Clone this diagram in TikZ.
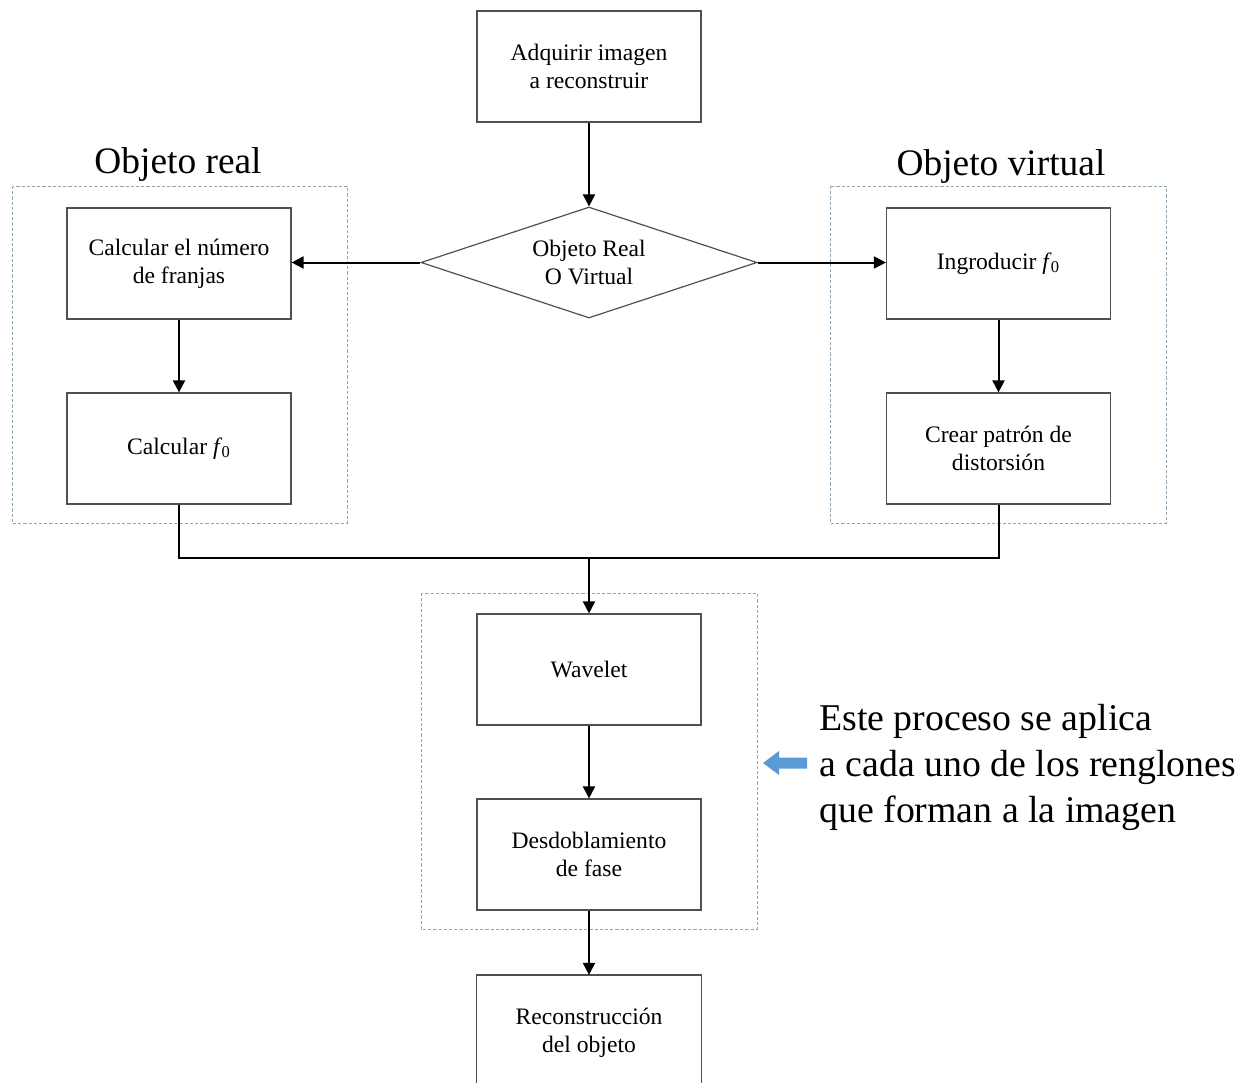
\documentclass[tikz,border=0pt]{standalone}
\usepackage{fontspec}
\setmainfont{Liberation Serif}
\usetikzlibrary{arrows.meta,shapes.geometric}
\definecolor{boxline}{HTML}{505050}
\definecolor{groupline}{HTML}{8FA6B4}
\definecolor{hintblue}{HTML}{5B9BD5}
\newcommand{\fzero}{\textit{f}\kern-0.03em\textsubscript{0}}
\tikzset{
  stepbox/.style={draw=boxline, line width=0.6pt, minimum width=112pt, minimum height=55.5pt,
    inner sep=0pt, align=center, font=\fontsize{11.8}{14}\selectfont},
  decision/.style={draw=boxline, line width=0.6pt, shape=diamond, aspect=3,
    minimum width=168pt, minimum height=55.5pt, inner sep=0pt, align=center,
    font=\fontsize{11.8}{14}\selectfont},
  flow/.style={line width=1pt, -{Triangle[length=6pt,width=6pt]}},
  mergeline/.style={line width=1pt},
  group/.style={draw=groupline, line width=0.5pt, dash pattern=on 1.6pt off 1pt},
  heading/.style={font=\fontsize{18.7}{22}\selectfont, inner sep=0pt}
}
\begin{document}
\begin{tikzpicture}[x=0.5pt, y=-0.5pt]
\useasboundingbox (0,0) rectangle (1248,1082);

% dashed groupings
\draw[group] (12,186) rectangle (347,523);
\draw[group] (830,186) rectangle (1166,523);
\draw[group] (421,593) rectangle (757,929);

% headings of the two branches
\node[heading, anchor=base] (hreal) at (178,173) {Objeto real};
\node[heading, anchor=base] (hvirt) at (1001,175) {Objeto virtual};

% process steps
\node[stepbox] (adq) at (589,66.5) {Adquirir imagen\\a reconstruir};
\node[decision] (dec) at (589,262.5) {Objeto Real\\O Virtual};
\node[stepbox] (franjas) at (179,263.5) {Calcular el número\\de franjas};
\node[stepbox] (calcf) at (179,448.5) {Calcular \fzero};
\node[stepbox] (intro) at (998.5,263.5) {Ingroducir \fzero};
\node[stepbox] (patron) at (998.5,448.5) {Crear patrón de\\distorsión};
\node[stepbox] (wave) at (589,669.5) {Wavelet};
\node[stepbox] (desd) at (589,854.5) {Desdoblamiento\\de fase};
\node[stepbox, draw=none, minimum height=57pt] (recon) at (589,1032.5) {Reconstrucción\\del objeto};
\draw[boxline, line width=0.6pt]
  (recon.south west) -- (recon.north west) -- (recon.north east) -- (recon.south east);

% connectors
\coordinate (merge) at (589,558);
\draw[flow] (adq) -- (dec);
\draw[flow] (dec.west) -- (franjas.east |- dec.west);
\draw[flow] (dec.east) -- (intro.west |- dec.east);
\draw[flow] (franjas) -- (calcf);
\draw[flow] (intro) -- (patron);
\draw[mergeline] (calcf.south) |- (merge);
\draw[mergeline] (patron.south) |- (merge);
\draw[flow] (merge) -- (wave.north);
\draw[flow] (wave) -- (desd);
\draw[flow] (desd) -- (recon.north);

% note on the repeated part
\fill[hintblue] (763,763) -- (779,751) -- (779,757.5) -- (807,757.5)
  -- (807,768.5) -- (779,768.5) -- (779,775) -- cycle;
\node[anchor=west, align=left, inner sep=0pt, font=\fontsize{18.9}{23}\selectfont] (note)
  at (819,767) {Este proceso se aplica\\a cada uno de los renglones\\que forman a la imagen};
\end{tikzpicture}
\end{document}
